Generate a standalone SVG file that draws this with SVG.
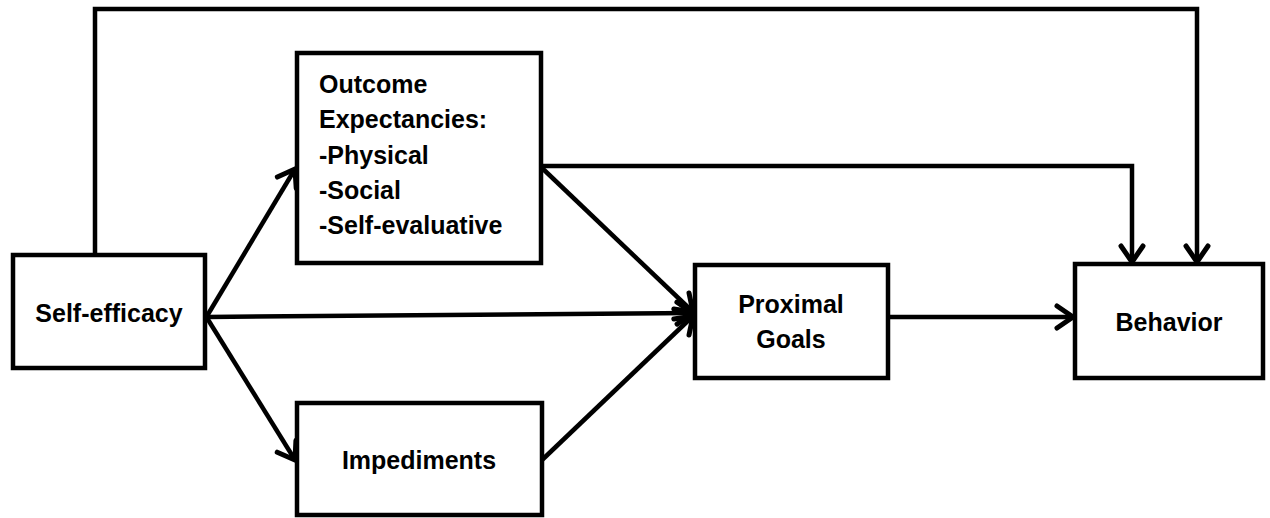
<svg xmlns="http://www.w3.org/2000/svg" width="1270" height="518" viewBox="0 0 1270 518">
<style>
.box{fill:#fff;stroke:#000;stroke-width:4.5;stroke-linejoin:miter}
.lbl{font-family:"Liberation Sans",Arial,sans-serif;font-weight:bold;font-size:25px;fill:#000}
.c{text-anchor:middle}
.conn{fill:none;stroke:#000;stroke-width:4.5;stroke-linejoin:miter}
</style>
<defs>
<marker id="arr" markerUnits="userSpaceOnUse" orient="auto" markerWidth="40" markerHeight="40" viewBox="-20 -20 40 40" refX="0" refY="0" overflow="visible">
<path d="M-16,-11 L0,0 L-16,11" fill="none" stroke="#000" stroke-width="5" stroke-linecap="round" stroke-linejoin="miter"/>
</marker>
</defs>
<rect width="1270" height="518" fill="#fff"/>
<g id="connectors">
<path class="conn" d="M95,255 L95,9 L1197,9 L1197,262" marker-end="url(#arr)"/>
<path class="conn" d="M541,166 L1132,166 L1132,262" marker-end="url(#arr)"/>
<path class="conn" d="M207,316 L295,169" marker-end="url(#arr)"/>
<path class="conn" d="M207,317 L693,313" marker-end="url(#arr)"/>
<path class="conn" d="M207,318 L295,460" marker-end="url(#arr)"/>
<path class="conn" d="M542,168 L693,312" marker-end="url(#arr)"/>
<path class="conn" d="M542,460 L693,316" marker-end="url(#arr)"/>
<path class="conn" d="M888,317 L1073,317" marker-end="url(#arr)"/>
</g>
<g id="self-efficacy">
<rect class="box" x="13" y="255" width="192" height="113"/>
<text class="lbl c" x="109" y="322">Self-efficacy</text>
</g>
<g id="outcome-expectancies">
<rect class="box" x="297" y="53" width="244" height="210"/>
<text class="lbl" x="319" y="93">Outcome</text>
<text class="lbl" x="319" y="128">Expectancies:</text>
<text class="lbl" x="319" y="164">-Physical</text>
<text class="lbl" x="319" y="199">-Social</text>
<text class="lbl" x="319" y="234">-Self-evaluative</text>
</g>
<g id="impediments">
<rect class="box" x="297" y="403" width="245" height="112"/>
<text class="lbl c" x="419" y="469">Impediments</text>
</g>
<g id="proximal-goals">
<rect class="box" x="695" y="265" width="193" height="113"/>
<text class="lbl c" x="791" y="313">Proximal</text>
<text class="lbl c" x="791" y="348">Goals</text>
</g>
<g id="behavior">
<rect class="box" x="1075" y="264" width="188" height="114"/>
<text class="lbl c" x="1169" y="331">Behavior</text>
</g>
</svg>
